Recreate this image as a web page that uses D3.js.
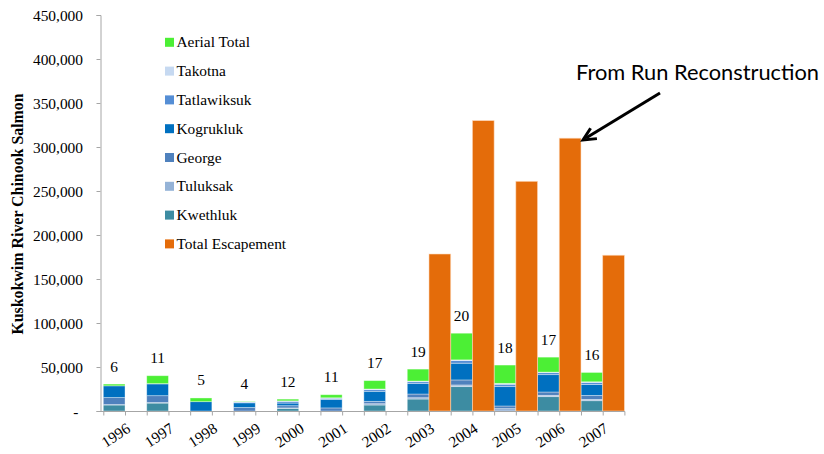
<!DOCTYPE html>
<html><head><meta charset="utf-8">
<script src="https://cdn.jsdelivr.net/npm/d3@7"></script>
<style>
html,body{margin:0;padding:0;background:#fff;}
svg{display:block;}
</style></head>
<body>
<svg id="chart" width="824" height="454" font-family="'Liberation Serif','Times New Roman',serif"></svg>
<script>
// ---- data ----
const years = ["1996","1997","1998","1999","2000","2001","2002","2003","2004","2005","2006","2007"];
const kwethluk    = [6800, 9000, 0, 0, 3000, 0, 6800, 13600, 27700, 0, 16300, 11700];
const tuluksak    = [500, 600, 0, 0, 500, 0, 1500, 1500, 1900, 2700, 1500, 1500];
const george      = [8000, 7800, 0, 4000, 2500, 3500, 2700, 4200, 5700, 3000, 3800, 4500];
const kogrukluk   = [13300, 13400, 10600, 5300, 3000, 9500, 11400, 12100, 19000, 22000, 19700, 12500];
const tatlawiksuk = [0, 0, 0, 800, 2000, 1500, 1900, 1900, 3000, 2700, 2300, 2300];
const takotna     = [0, 300, 0, 300, 500, 500, 700, 700, 800, 1000, 600, 700];
const aerialTotal = [2000, 9000, 4200, 500, 2000, 3500, 9500, 13600, 30300, 20800, 17000, 10600];
const totalEscapement = [null, null, null, null, null, null, null, 178400, 330000, 261000, 310000, 177000];
const surveyCounts = [6, 11, 5, 4, 12, 11, 17, 19, 20, 18, 17, 16];
const yTicks = [0, 50000, 100000, 150000, 200000, 250000, 300000, 350000, 400000, 450000];

const SERIF = "'Liberation Serif','Times New Roman',serif";

const stackSeries = [
  {name:"Kwethluk", values:kwethluk, color:"#3D8CA2"},
  {name:"Tuluksak", values:tuluksak, color:"#95B3D7"},
  {name:"George", values:george, color:"#4F81BD"},
  {name:"Kogrukluk", values:kogrukluk, color:"#0070C0"},
  {name:"Tatlawiksuk", values:tatlawiksuk, color:"#558ED5"},
  {name:"Takotna", values:takotna, color:"#C6D9F1"},
  {name:"Aerial Total", values:aerialTotal, color:"#4CEF35"}
];
const escColor = "#E46C0A";

// ---- scales ----
const svg = d3.select("#chart");
const slots = years.flatMap(y => [y + "|s", y + "|e"]);
const x = d3.scaleBand().domain(slots).range([103.3, 624.4]).padding(0);
const xb = d3.scaleLinear().domain([0, slots.length]).range([103.3, 624.4]);
const y = d3.scaleLinear().domain([0, 450000]).range([411, 15]);
const bw = x.bandwidth();

// ---- stacked data ----
const table = years.map((yr, i) => {
  const o = {year: yr};
  stackSeries.forEach(s => o[s.name] = s.values[i]);
  return o;
});
const stack = d3.stack().keys(stackSeries.map(s => s.name));
const layers = stack(table);

// ---- bars ----
const gBars = svg.append("g");
layers.forEach((layer, li) => {
  gBars.append("g").attr("fill", stackSeries[li].color)
    .selectAll("rect").data(layer.filter(d => d[1] - d[0] > 0)).join("rect")
    .attr("x", d => x(d.data.year + "|s"))
    .attr("width", bw)
    .attr("y", d => y(d[1]))
    .attr("height", d => y(d[0]) - y(d[1]))
    .attr("stroke", "rgba(255,255,255,0.45)")
    .attr("stroke-width", 0.8);
});
gBars.append("g").attr("fill", escColor)
  .selectAll("rect").data(years.map((yr, i) => ({yr, v: totalEscapement[i]})).filter(d => d.v != null)).join("rect")
  .attr("x", d => x(d.yr + "|e"))
  .attr("width", bw)
  .attr("y", d => y(d.v))
  .attr("height", d => y(0) - y(d.v))
  .attr("stroke", "rgba(255,220,190,0.7)")
  .attr("stroke-width", 0.8);

// ---- survey count labels ----
svg.append("g").selectAll("text").data(years).join("text")
  .attr("x", (d) => x(d + "|s") + bw / 2)
  .attr("y", (d, i) => y(d3.sum(stackSeries, s => s.values[i])) - 12.5)
  .attr("text-anchor", "middle")
  .attr("font-family", SERIF)
  .attr("font-size", 15.4)
  .attr("fill", "#000")
  .text((d, i) => surveyCounts[i]);

// ---- axes ----
const yAxis = d3.axisLeft(y).tickValues(yTicks).tickSize(4).tickPadding(13.5)
  .tickFormat(d => d === 0 ? "-" : d3.format(",")(d));
const gy = svg.append("g").attr("transform", "translate(100.5,0)").call(yAxis)
  .attr("font-family", SERIF);
gy.select(".domain").attr("stroke", "#A6A6A6");
gy.selectAll(".tick line").attr("stroke", "#A6A6A6");
gy.selectAll(".tick text").attr("font-size", 15.4).attr("font-family", SERIF).attr("fill", "#000")
  .attr("dy", "0.33em")
  .attr("x", d => d === 0 ? -22 : -17.5);

const xAxis = d3.axisBottom(xb).tickValues(d3.range(slots.length + 1)).tickSize(4).tickFormat("");
const gx = svg.append("g").attr("transform", "translate(0,411.5)").call(xAxis);
gx.select(".domain").remove();
gx.selectAll(".tick line").attr("stroke", "#A6A6A6");
svg.append("line").attr("x1", 100.5).attr("x2", 624.9).attr("y1", 411.5).attr("y2", 411.5).attr("stroke", "#A6A6A6");

// year labels
svg.append("g").selectAll("text").data(years).join("text")
  .attr("transform", d => `translate(${x(d + "|s") + bw / 2 + 1.5},435) rotate(-33)`)
  .attr("text-anchor", "middle")
  .attr("dy", "0.35em")
  .attr("font-family", SERIF)
  .attr("font-size", 15.4)
  .attr("fill", "#000")
  .text(d => d);

// y title
svg.append("text")
  .attr("transform", "translate(23,214) rotate(-90)")
  .attr("text-anchor", "middle")
  .attr("font-family", SERIF)
  .attr("font-size", 15.9)
  .attr("font-weight", "bold")
  .attr("fill", "#000")
  .text("Kuskokwim River Chinook Salmon");

// ---- legend ----
const legendItems = [...stackSeries.slice().reverse().map(s => ({name: s.name, color: s.color})), {name: "Total Escapement", color: escColor}];
const lg = svg.append("g").selectAll("g").data(legendItems).join("g")
  .attr("transform", (d, i) => `translate(165,${42.3 + i * 28.8})`);
lg.append("rect").attr("x", 0).attr("y", -4.5).attr("width", 9).attr("height", 9).attr("fill", d => d.color);
lg.append("text").attr("x", 11.5).attr("y", 5)
  .attr("font-family", SERIF).attr("font-size", 15.4).attr("fill", "#000")
  .text(d => d.name);

// ---- annotation ----
svg.append("text")
  .attr("x", 576).attr("y", 80)
  .attr("font-family", "Lato, 'Open Sans', sans-serif")
  .attr("font-size", 21)
  .attr("fill", "#000")
  .attr("textLength", 243).attr("lengthAdjust", "spacingAndGlyphs")
  .text("From Run Reconstruction");

const ax1 = 660, ay1 = 93, ax2 = 583, ay2 = 140;
svg.append("line").attr("x1", ax1).attr("y1", ay1).attr("x2", ax2 + 3).attr("y2", ay2 - 2)
  .attr("stroke", "#000").attr("stroke-width", 3);
const ang = Math.atan2(ay2 - ay1, ax2 - ax1);
const hl = 14, ha = 0.45;
const p1 = [ax2 - hl * Math.cos(ang - ha), ay2 - hl * Math.sin(ang - ha)];
const p2 = [ax2 - hl * Math.cos(ang + ha), ay2 - hl * Math.sin(ang + ha)];
svg.append("path")
  .attr("d", `M${p1[0]},${p1[1]} L${ax2},${ay2} L${p2[0]},${p2[1]}`)
  .attr("fill", "none").attr("stroke", "#000").attr("stroke-width", 3)
  .attr("stroke-linejoin", "miter").attr("stroke-linecap", "butt");
</script>
</body></html>
